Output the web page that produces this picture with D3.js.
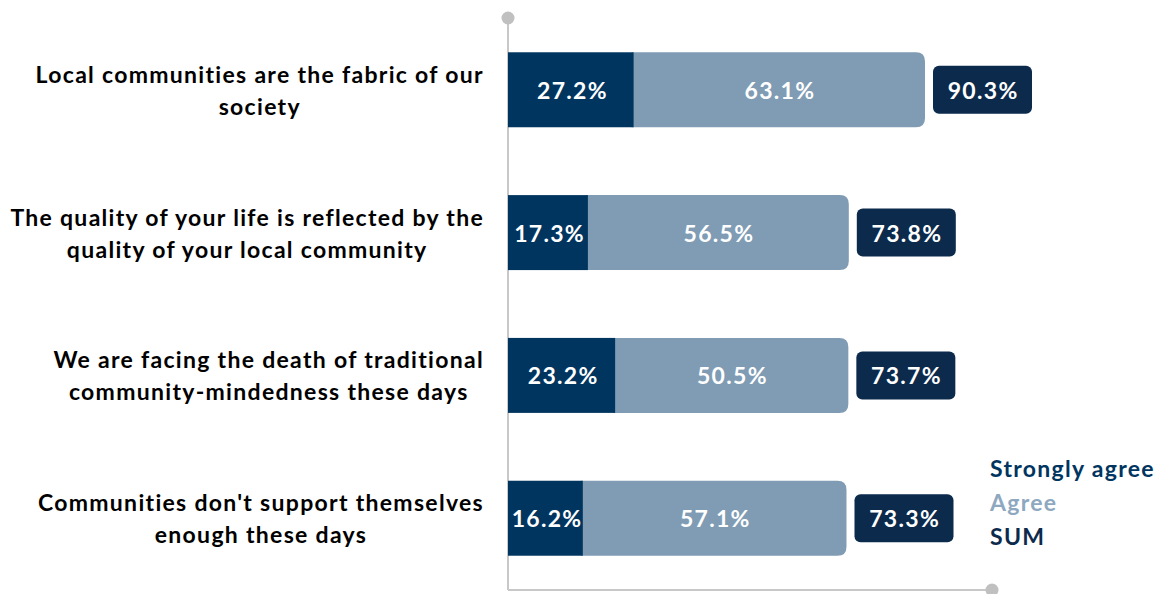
<!DOCTYPE html>
<html><head><meta charset="utf-8">
<script src="https://cdn.jsdelivr.net/npm/d3@7"></script>
<style>body{margin:0;background:#fff;}svg{display:block;}</style>
</head><body>
<svg id="chart" width="1163" height="594"></svg>
<script>
const categories = [
  ["Local communities are the fabric of our", "society"],
  ["The quality of your life is reflected by the", "quality of your local community"],
  ["We are facing the death of traditional", "community-mindedness these days"],
  ["Communities don't support themselves", "enough these days"]
];
const stronglyAgree = [27.2, 17.3, 23.2, 16.2];
const agree = [63.1, 56.5, 50.5, 57.1];
const sumValues = [90.3, 73.8, 73.7, 73.3];
const legendLabels = ["Strongly agree", "Agree", "SUM"];

const FONT = "Lato, 'Open Sans', sans-serif";
const FS = 23, LS = 1.3;
const C_DARK = "#00355f", C_LIGHT = "#7f9cb4", C_SUM = "#0b2a4c";
const svg = d3.select("#chart");
const x0 = 508;
const x = d3.scaleLinear().domain([0, 90.3]).range([x0, 925]);
const y = d3.scaleBand().domain(d3.range(4)).range([18, 590]).paddingInner(0.475).paddingOuter(0.24);

// axis lines
const axis = svg.append("g");
axis.append("line").attr("x1", x0).attr("x2", x0).attr("y1", 18).attr("y2", 590).attr("stroke", "#c8c8c8").attr("stroke-width", 2);
axis.append("line").attr("x1", x0).attr("x2", 992).attr("y1", 590).attr("y2", 590).attr("stroke", "#c8c8c8").attr("stroke-width", 2);
axis.append("circle").attr("cx", x0).attr("cy", 18).attr("r", 6.5).attr("fill", "#c0c0c0");
axis.append("circle").attr("cx", 992).attr("cy", 590).attr("r", 6.5).attr("fill", "#c0c0c0");

const rows = svg.selectAll("g.row").data(d3.range(4)).join("g").attr("class", "row");
const bh = y.bandwidth();
const r = 9;

function label(sel) {
  return sel.attr("font-family", FONT).attr("font-weight", 700).attr("font-size", FS)
    .attr("letter-spacing", LS).attr("dominant-baseline", "central");
}

// agree bar (rounded right end)
rows.append("path").attr("fill", C_LIGHT).attr("d", i => {
  const xs = x(stronglyAgree[i]) - 2, xe = x(stronglyAgree[i] + agree[i]), t = y(i), b = y(i) + bh;
  return `M${xs},${t}H${xe - r}Q${xe},${t} ${xe},${t + r}V${b - r}Q${xe},${b} ${xe - r},${b}H${xs}Z`;
});
rows.append("rect").attr("fill", C_DARK)
  .attr("x", x0).attr("y", i => y(i)).attr("width", i => x(stronglyAgree[i]) - x0).attr("height", bh);

label(rows.append("text")).attr("fill", "#fff").attr("text-anchor", "middle")
  .attr("x", i => (x0 + x(stronglyAgree[i])) / 2 + 1 + LS / 2).attr("y", i => y(i) + bh / 2)
  .text(i => stronglyAgree[i].toFixed(1) + "%");
label(rows.append("text")).attr("fill", "#fff").attr("text-anchor", "middle")
  .attr("x", i => (x(stronglyAgree[i]) + x(stronglyAgree[i] + agree[i])) / 2 + LS / 2).attr("y", i => y(i) + bh / 2)
  .text(i => agree[i].toFixed(1) + "%");

// sum boxes
rows.append("rect").attr("fill", C_SUM).attr("rx", 6)
  .attr("x", i => x(sumValues[i]) + 8).attr("y", i => y(i) + bh / 2 - 24).attr("width", 99).attr("height", 48);
label(rows.append("text")).attr("fill", "#fff").attr("text-anchor", "middle")
  .attr("x", i => x(sumValues[i]) + 8 + 49.5 + LS / 2).attr("y", i => y(i) + bh / 2)
  .text(i => sumValues[i].toFixed(1) + "%");

// category labels
label(rows.append("text")).attr("fill", "#000").attr("text-anchor", "middle")
  .each(function (i) {
    const t = d3.select(this);
    categories[i].forEach((line, k) => {
      t.append("tspan").attr("x", 0).attr("y", y(i) + bh / 2 - 16 + k * 32).attr("dominant-baseline", "central").text(line);
    });
  })
  .attr("transform", function () { return `translate(${484 - this.getBBox().width / 2},0)`; });

// legend
const legColors = [C_DARK, "#8ea8c0", C_SUM];
label(svg.selectAll("text.leg").data(legendLabels).join("text").attr("class", "leg"))
  .attr("x", 990).attr("y", (d, i) => 468 + i * 34)
  .attr("fill", (d, i) => legColors[i]).text(d => d);
</script>
</body></html>
